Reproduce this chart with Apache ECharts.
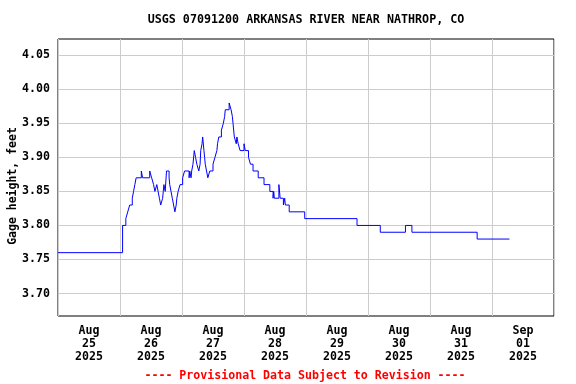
<!DOCTYPE html>
<html><head><meta charset="utf-8">
<script src="https://cdn.jsdelivr.net/npm/echarts@6/dist/echarts.min.js"></script>
<style>html,body{margin:0;padding:0;background:#fff}#c{width:576px;height:384px}</style>
</head><body><div id="c"></div>
<script>
const chartTitle = 'USGS 07091200 ARKANSAS RIVER NEAR NATHROP, CO';
const yAxisTitle = 'Gage height, feet';
const footerText = '---- Provisional Data Subject to Revision ----';
const dayLabels = ['Aug\n25\n2025','Aug\n26\n2025','Aug\n27\n2025','Aug\n28\n2025','Aug\n29\n2025','Aug\n30\n2025','Aug\n31\n2025','Sep\n01\n2025'];
const timeMin = '2025-08-25 00:00';
const timeMax = '2025-09-02 00:00';
const yMin = 3.70, yMax = 4.05, yStep = 0.05;

const times = ['2025-08-25 00:00','2025-08-26 01:00','2025-08-26 02:15','2025-08-26 03:00','2025-08-26 03:45','2025-08-26 04:45','2025-08-26 05:15','2025-08-26 05:45','2025-08-26 06:15','2025-08-26 08:15',
'2025-08-26 08:45','2025-08-26 11:30','2025-08-26 12:15','2025-08-26 13:00','2025-08-26 13:30','2025-08-26 14:15','2025-08-26 14:45','2025-08-26 15:15','2025-08-26 15:45','2025-08-26 16:30',
'2025-08-26 16:45','2025-08-26 17:00','2025-08-26 17:30','2025-08-26 18:00','2025-08-26 19:00','2025-08-26 19:15','2025-08-26 19:45','2025-08-26 20:15','2025-08-26 20:45','2025-08-26 21:15',
'2025-08-26 21:45','2025-08-26 22:00','2025-08-26 22:30','2025-08-26 23:15','2025-08-27 00:15','2025-08-27 01:00','2025-08-27 02:45','2025-08-27 03:00','2025-08-27 03:30','2025-08-27 03:45',
'2025-08-27 04:15','2025-08-27 04:45','2025-08-27 05:15','2025-08-27 05:45','2025-08-27 06:30','2025-08-27 07:00','2025-08-27 07:15','2025-08-27 07:45','2025-08-27 08:00','2025-08-27 08:30',
'2025-08-27 08:45','2025-08-27 09:00','2025-08-27 09:30','2025-08-27 10:00','2025-08-27 10:45','2025-08-27 12:00','2025-08-27 12:45','2025-08-27 13:30','2025-08-27 13:45','2025-08-27 14:15',
'2025-08-27 15:15','2025-08-27 16:00','2025-08-27 16:30','2025-08-27 16:45','2025-08-27 18:15','2025-08-27 19:00','2025-08-27 19:30','2025-08-27 19:45','2025-08-27 20:15','2025-08-27 21:00',
'2025-08-27 21:15','2025-08-27 21:45','2025-08-27 22:30','2025-08-28 00:00','2025-08-28 00:30','2025-08-28 01:45','2025-08-28 02:30','2025-08-28 03:30','2025-08-28 05:30','2025-08-28 07:45',
'2025-08-28 10:00','2025-08-28 11:15','2025-08-28 11:30','2025-08-28 11:45','2025-08-28 13:30','2025-08-28 14:00','2025-08-28 15:15','2025-08-28 15:45','2025-08-28 16:00','2025-08-28 17:30',
'2025-08-28 23:30','2025-08-29 19:45','2025-08-30 04:45','2025-08-30 14:30','2025-08-30 17:00','2025-08-31 18:15','2025-09-01 06:45'];
const heights = [3.76,3.80,3.81,3.82,3.83,3.84,3.85,3.86,3.87,3.88,
3.87,3.88,3.87,3.86,3.85,3.86,3.85,3.84,3.83,3.84,
3.85,3.86,3.85,3.88,3.87,3.86,3.85,3.84,3.83,3.82,
3.83,3.84,3.85,3.86,3.87,3.88,3.87,3.88,3.87,3.88,
3.89,3.91,3.90,3.89,3.88,3.89,3.91,3.92,3.93,3.91,
3.90,3.89,3.88,3.87,3.88,3.89,3.90,3.91,3.92,3.93,
3.94,3.95,3.96,3.97,3.98,3.97,3.96,3.95,3.93,3.92,
3.93,3.92,3.91,3.92,3.91,3.90,3.89,3.88,3.87,3.86,
3.85,3.84,3.85,3.84,3.86,3.84,3.83,3.84,3.83,3.82,
3.81,3.80,3.79,3.80,3.79,3.78,3.78];

const FONT = 'DejaVu Sans Mono';
const chart = echarts.init(document.getElementById('c'), null, {renderer: 'canvas'});
chart.setOption({
  animation: false,
  backgroundColor: '#fff',
  grid: [
    {left: 58, right: 22, top: 39, bottom: 68, show: true, borderColor: '#000', borderWidth: 1, backgroundColor: 'transparent'},
    {left: 58, right: 22, top: 55.3, height: 238.2, show: false}
  ],
  xAxis: [
    {type: 'category', gridIndex: 0, data: dayLabels, boundaryGap: true,
     axisLine: {show: false}, axisTick: {show: false},
     splitLine: {show: true, interval: 0, lineStyle: {color: '#cccccc', width: 1}},
     axisLabel: {interval: 0, margin: 9, color: '#000', fontFamily: FONT, fontWeight: 'bold', fontSize: 11.6, lineHeight: 12.8}},
    {type: 'time', gridIndex: 1, min: timeMin, max: timeMax, show: false}
  ],
  yAxis: [
    {type: 'value', gridIndex: 0, min: 0, max: 1, show: false},
    {type: 'value', gridIndex: 1, min: yMin, max: yMax, interval: yStep,
     axisLine: {show: false}, axisTick: {show: false},
     splitLine: {show: true, lineStyle: {color: '#cccccc', width: 1}},
     axisLabel: {margin: 8, color: '#000', fontFamily: FONT, fontWeight: 'bold', fontSize: 11.6, padding: [2, 0, 0, 0], formatter: v => v.toFixed(2)}}
  ],
  series: [{
    type: 'line', xAxisIndex: 1, yAxisIndex: 1, step: 'end', showSymbol: false, symbol: 'none',
    lineStyle: {color: '#0000ff', width: 1}, z: 5,
    data: times.map((t, i) => [t, heights[i]])
  }],
  graphic: [
    {type: 'text', x: 306, y: 20, style: {text: chartTitle, align: 'center', verticalAlign: 'middle', fill: '#000', font: 'bold 11.7px "DejaVu Sans Mono"'}},
    {type: 'text', x: 13, y: 186, rotation: Math.PI / 2, style: {text: yAxisTitle, align: 'center', verticalAlign: 'middle', fill: '#000', font: 'bold 11.5px "DejaVu Sans Mono"'}},
    {type: 'text', x: 305, y: 376, style: {text: footerText, align: 'center', verticalAlign: 'middle', fill: '#ff0000', font: 'bold 11.6px "DejaVu Sans Mono"'}}
  ]
});
</script></body></html>
